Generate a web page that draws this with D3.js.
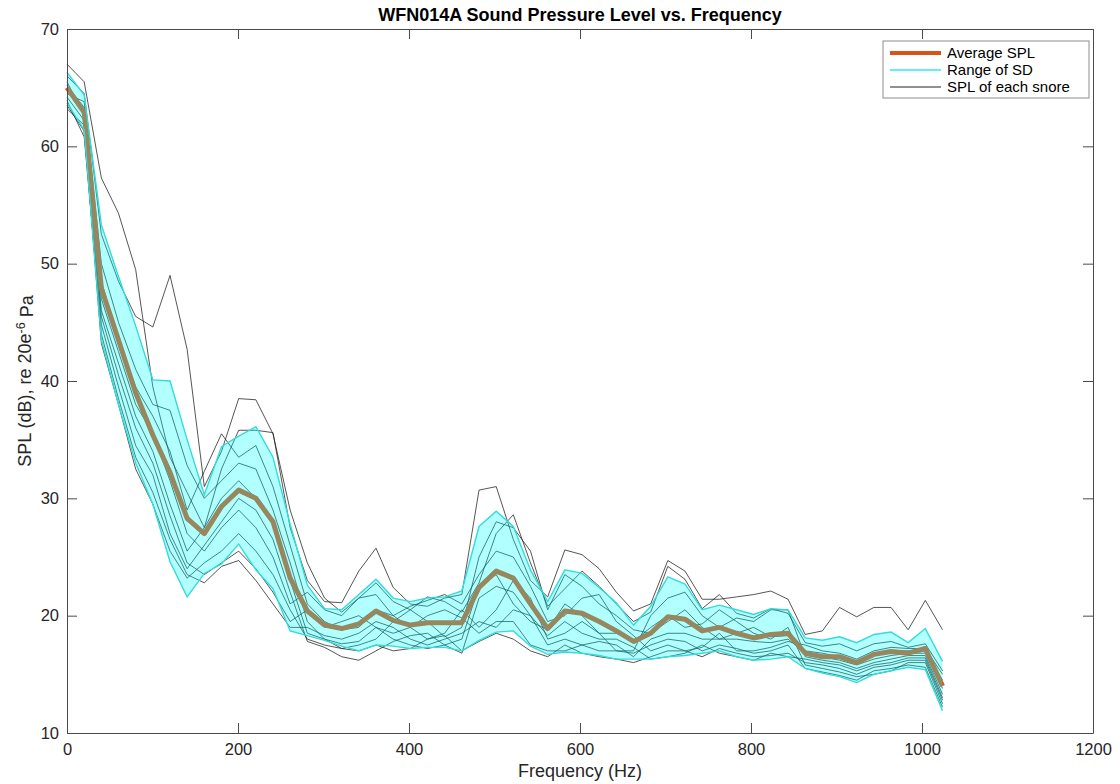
<!DOCTYPE html>
<html>
<head>
<meta charset="utf-8">
<script src="https://cdnjs.cloudflare.com/ajax/libs/d3/7.8.5/d3.min.js"></script>
<style>
  body { margin: 0; background: #fff; }
  svg { font-family: "Liberation Sans", Arial, Helvetica, sans-serif; }
  .axis text { font-size: 16.5px; fill: #262626; }
  .axis path, .axis line { stroke: #4a4a4a; }
</style>
</head>
<body>
<script>
// frequency bins (Hz), 52 points from 0 to 1024
var freqs = [0, 20.1, 40.2, 60.2, 80.3, 100.4, 120.5, 140.5, 160.6, 180.7,
  200.8, 220.9, 240.9, 261.0, 281.1, 301.2, 321.3, 341.3, 361.4, 381.5,
  401.6, 421.6, 441.7, 461.8, 481.9, 502.0, 522.0, 542.1, 562.2, 582.3,
  602.4, 622.4, 642.5, 662.6, 682.7, 702.7, 722.8, 742.9, 763.0, 783.1,
  803.1, 823.2, 843.3, 863.4, 883.5, 903.5, 923.6, 943.7, 963.8, 983.8,
  1003.9, 1024];

// average SPL (dB)
var avgSPL = [65.0, 62.9, 47.9, 43.5, 39.0, 35.4, 32.2, 28.3, 27.0, 29.3,
  30.7, 30.0, 28.0, 23.2, 20.4, 19.2, 18.9, 19.3, 20.4, 19.6,
  19.2, 19.4, 19.4, 19.4, 22.4, 23.8, 23.2, 21.0, 18.9, 20.4,
  20.2, 19.5, 18.7, 17.8, 18.5, 19.9, 19.7, 18.7, 19.0, 18.5,
  18.1, 18.4, 18.5, 16.8, 16.5, 16.5, 16.0, 16.7, 16.95, 16.8,
  17.2, 14.0];

// upper and lower edge of the SD band
var sdUpper = [66.3, 64.4, 53.3, 48.9, 44.7, 40.1, 40.0, 35.0, 30.3, 34.4,
  35.3, 36.1, 33.5, 27.8, 22.6, 20.6, 20.5, 21.8, 23.1, 21.5,
  21.2, 21.5, 21.6, 22.1, 27.6, 28.9, 27.6, 23.9, 21.2, 23.9,
  23.6, 22.4, 21.1, 19.2, 20.8, 23.3, 22.7, 20.5, 20.9, 20.5,
  20.1, 20.6, 20.5, 18.1, 17.9, 18.2, 17.7, 18.4, 18.6, 17.7,
  18.9, 16.1];
var sdLower = [63.7, 61.4, 43.5, 38.0, 33.0, 29.5, 24.6, 21.6, 23.6, 24.4,
  26.1, 23.9, 22.3, 18.7, 18.3, 17.9, 17.4, 17.0, 17.5, 17.4,
  17.2, 17.3, 17.3, 17.0, 17.9, 18.6, 18.7, 17.4, 16.7, 16.9,
  16.8, 16.6, 16.3, 16.3, 16.3, 16.5, 16.6, 16.8, 17.0, 16.5,
  16.2, 16.3, 16.5, 15.5, 15.1, 14.8, 14.3, 15.0, 15.3, 15.6,
  15.4, 11.9];

// SPL of each snore
var snore1 = [67.0, 65.5, 57.3, 54.3, 49.5, 39.5, 33.5, 30.5, 27.5, 32.5,
  35.8, 35.8, 35.6, 27.5, 23.0, 21.2, 21.1, 23.8, 25.75, 22.4,
  21.0, 20.8, 21.5, 21.8, 30.7, 31.0, 26.5, 23.0, 21.6, 25.6,
  25.2, 24.0, 22.0, 20.4, 21.0, 24.7, 23.8, 21.4, 21.4, 21.6,
  21.8, 22.1, 21.4, 18.4, 18.7, 20.7, 19.9, 20.7, 20.7, 18.8,
  21.3, 18.8];
var snore2 = [66.0, 64.5, 52.5, 48.5, 45.5, 44.6, 49.0, 42.7, 31.0, 34.0,
  38.5, 38.4, 35.5, 29.0, 24.5, 21.5, 20.3, 21.5, 22.8, 21.2,
  20.5, 21.6, 21.2, 20.3, 22.8, 27.0, 28.6, 24.5, 20.8, 22.3,
  23.8, 22.5, 21.0, 19.5, 20.3, 24.2, 23.1, 20.6, 21.8, 20.2,
  19.8, 20.6, 20.2, 17.7, 17.4, 17.6, 17.0, 17.6, 17.8, 17.3,
  17.6, 15.3];
var snore3 = [64.5, 63.8, 50.0, 45.0, 41.0, 38.0, 37.5, 32.8, 30.0, 31.5,
  33.0, 32.5, 29.0, 24.5, 19.5, 18.0, 17.2, 17.5, 18.0, 19.5,
  20.5, 19.5, 18.2, 19.0, 25.0, 28.0, 27.5, 25.5, 20.5, 23.5,
  22.5, 21.0, 20.0, 18.8, 18.5, 19.5, 20.5, 19.0, 18.0, 18.5,
  19.0, 18.2, 18.3, 17.0, 16.8, 16.5, 16.0, 16.6, 17.0, 17.0,
  17.0, 14.5];
var snore4 = [65.2, 63.3, 48.5, 43.5, 39.5, 37.0, 34.0, 29.0, 32.3, 35.5,
  33.5, 34.5, 31.0, 26.0, 21.0, 19.5, 18.8, 19.0, 20.5, 20.0,
  19.0, 18.0, 18.5, 20.5, 19.0, 20.5, 23.0, 21.5, 18.0, 18.5,
  19.5, 18.5, 17.0, 17.0, 20.0, 21.5, 22.0, 20.0, 19.0, 19.8,
  19.5, 20.5, 20.5, 16.5, 16.2, 16.0, 15.5, 16.0, 16.3, 16.6,
  16.6, 13.3];
var snore5 = [64.8, 63.0, 47.0, 42.5, 38.0, 35.5, 31.5, 27.0, 25.5, 27.5,
  29.0, 27.5, 25.0, 21.0, 22.0, 20.5, 20.0, 21.5, 21.8, 20.0,
  20.8, 21.3, 21.8, 21.0, 23.5, 25.5, 25.0, 22.5, 19.5, 20.0,
  21.5, 21.8, 19.5, 18.3, 17.0, 17.5, 17.0, 17.3, 18.5, 17.0,
  17.0, 17.3, 17.8, 17.5, 17.0, 16.8, 16.3, 17.0, 17.3, 17.2,
  17.2, 15.0];
var snore6 = [65.5, 62.6, 46.0, 41.5, 37.0, 34.0, 29.5, 25.5, 27.5, 30.0,
  31.5, 30.0, 28.0, 23.0, 18.5, 18.0, 17.6, 17.8, 19.0, 18.0,
  17.5, 17.2, 17.5, 18.0, 22.5, 23.5, 21.0, 19.5, 18.8, 21.0,
  20.0, 18.5, 18.5, 17.8, 19.0, 20.0, 19.0, 19.3, 20.5, 19.5,
  18.5, 18.0, 19.0, 15.8, 15.5, 15.2, 14.8, 15.0, 15.3, 16.0,
  16.0, 12.5];
var snore7 = [64.2, 62.2, 45.5, 40.5, 36.0, 33.0, 28.5, 24.5, 23.5, 24.5,
  25.5, 24.0, 22.0, 19.5, 20.5, 19.0, 19.5, 20.0, 19.0, 18.5,
  19.0, 20.0, 20.5, 19.8, 18.5, 19.5, 19.5, 17.5, 17.0, 17.0,
  17.5, 17.8, 17.5, 16.5, 18.0, 18.5, 18.5, 18.0, 18.0, 18.0,
  17.8, 17.7, 18.0, 16.8, 16.5, 16.2, 15.8, 16.3, 16.6, 16.8,
  16.8, 13.8];
var snore8 = [63.9, 60.8, 44.8, 39.5, 34.5, 32.0, 27.0, 24.0, 26.0, 28.0,
  30.0, 29.0, 26.5, 22.0, 17.8, 17.3, 16.5, 16.2, 17.0, 17.8,
  18.3, 18.5, 17.5, 16.8, 21.5, 22.5, 22.0, 20.0, 18.3, 19.5,
  18.5, 18.0, 18.0, 17.3, 16.3, 16.5, 16.8, 17.5, 16.8, 16.5,
  16.2, 16.8, 16.5, 16.3, 16.0, 15.8, 15.3, 15.8, 16.0, 16.4,
  16.4, 13.0];
var snore9 = [63.5, 61.3, 44.0, 38.5, 33.5, 30.5, 26.5, 23.5, 22.8, 24.2,
  24.7, 23.0, 21.0, 19.0, 19.0, 18.3, 18.0, 18.5, 19.5, 19.0,
  18.0, 17.5, 18.0, 18.5, 19.5, 19.0, 20.5, 20.0, 17.5, 18.0,
  17.5, 17.0, 17.0, 16.8, 17.5, 18.0, 17.8, 17.0, 17.5, 17.2,
  16.8, 17.0, 17.5, 15.5, 15.2, 14.9, 14.5, 15.3, 15.5, 15.8,
  15.6, 12.2];
var snore10 = [63.2, 61.8, 43.2, 38.0, 32.5, 29.5, 25.5, 23.2, 24.5, 25.5,
  27.0, 25.5, 23.5, 20.5, 18.0, 17.5, 17.2, 17.0, 17.5, 17.0,
  17.2, 18.0, 18.3, 17.0, 17.8, 18.5, 18.0, 17.0, 16.5, 17.5,
  16.8, 16.5, 16.3, 16.0, 16.5, 17.0, 17.0, 16.5, 17.2, 16.8,
  16.5, 16.6, 16.8, 16.0, 15.8, 15.5, 15.0, 15.6, 15.8, 16.2,
  16.2, 12.8];

var snores = [snore1, snore2, snore3, snore4, snore5, snore6, snore7, snore8, snore9, snore10];

var xTicks = [0, 200, 400, 600, 800, 1000, 1200];
var yTicks = [10, 20, 30, 40, 50, 60, 70];

var legendLabels = ["Average SPL", "Range of SD", "SPL of each snore"];

var margin = {top: 29, right: 27, bottom: 51, left: 67},
    width = 1120 - margin.left - margin.right,
    height = 784 - margin.top - margin.bottom;

var svg = d3.select("body").append("svg")
    .attr("width", 1120)
    .attr("height", 784),
    g = svg.append("g").attr("transform", "translate(" + margin.left + "," + margin.top + ")");

var x = d3.scaleLinear().domain([0, 1200]).range([0, width]),
    y = d3.scaleLinear().domain([10, 70]).range([height, 0]);

var line = d3.line()
    .x(function(d, i) { return x(freqs[i]); })
    .y(function(d) { return y(d); });

var band = d3.area()
    .x(function(d, i) { return x(freqs[i]); })
    .y0(function(d, i) { return y(sdLower[i]); })
    .y1(function(d, i) { return y(sdUpper[i]); });

// each snore first, so the cyan band sits on top of them
g.selectAll(".snore")
  .data(snores)
  .enter().append("path")
    .attr("class", "snore")
    .attr("d", line)
    .attr("fill", "none")
    .attr("stroke", "#1f1f1f")
    .attr("stroke-width", 0.9)
    .attr("stroke-opacity", 0.85);

// average line, gets tinted by the transparent band drawn over it
g.append("path")
    .datum(avgSPL)
    .attr("d", line)
    .attr("fill", "none")
    .attr("stroke", "#D95319")
    .attr("stroke-width", 5)
    .attr("stroke-linejoin", "round");

g.append("path")
    .datum(sdUpper)
    .attr("d", band)
    .attr("fill", "#00FFFF")
    .attr("fill-opacity", 0.3)
    .attr("stroke", "none");

[sdUpper, sdLower].forEach(function(edge) {
  g.append("path")
      .datum(edge)
      .attr("d", line)
      .attr("fill", "none")
      .attr("stroke", "#35dada")
      .attr("stroke-width", 1.4);
});

// axes, MATLAB style: ticks inside on all four sides
g.append("g")
    .attr("class", "axis axis--x")
    .attr("transform", "translate(0," + height + ")")
    .call(d3.axisBottom(x).tickValues(xTicks).tickFormat(d3.format("d"))
      .tickSizeInner(-10).tickSizeOuter(0).tickPadding(10));

g.append("g")
    .attr("class", "axis axis--y")
    .call(d3.axisLeft(y).tickValues(yTicks).tickSizeInner(-10).tickSizeOuter(0).tickPadding(8));

g.append("g")
    .attr("class", "axis")
    .call(d3.axisTop(x).tickValues(xTicks).tickSizeInner(-10).tickSizeOuter(0).tickFormat(""));

g.append("g")
    .attr("class", "axis")
    .attr("transform", "translate(" + width + ",0)")
    .call(d3.axisRight(y).tickValues(yTicks).tickSizeInner(-10).tickSizeOuter(0).tickFormat(""));

// title + axis labels
svg.append("text")
    .attr("x", margin.left + width / 2)
    .attr("y", 21)
    .attr("text-anchor", "middle")
    .style("font-size", "18px")
    .style("font-weight", "bold")
    .attr("fill", "#000")
    .text("WFN014A Sound Pressure Level vs. Frequency");

svg.append("text")
    .attr("x", margin.left + width / 2)
    .attr("y", 777)
    .attr("text-anchor", "middle")
    .style("font-size", "18px")
    .attr("fill", "#262626")
    .text("Frequency (Hz)");

var ylab = svg.append("text")
    .attr("transform", "translate(31," + (margin.top + height / 2) + ") rotate(-90)")
    .attr("text-anchor", "middle")
    .style("font-size", "18px")
    .attr("fill", "#262626");
ylab.append("tspan").text("SPL (dB), re 20e");
ylab.append("tspan").attr("dy", "-0.45em").style("font-size", "12.5px").text("-6");
ylab.append("tspan").attr("dy", "0.45em").text(" Pa");

// legend box top right
var legend = svg.append("g").attr("transform", "translate(883,41)");

legend.append("rect")
    .attr("width", 206)
    .attr("height", 57)
    .attr("fill", "#fff")
    .attr("stroke", "#8c8c8c")
    .attr("stroke-width", 1);

var legendStyles = [
  {color: "#D95319", w: 4},
  {color: "#5ff0f0", w: 2},
  {color: "#222", w: 1}
];

var item = legend.selectAll(".item")
  .data(legendLabels)
  .enter().append("g")
    .attr("class", "item")
    .attr("transform", function(d, i) { return "translate(0," + (12 + i * 17) + ")"; });

item.append("line")
    .attr("x1", 7).attr("x2", 58)
    .attr("stroke", function(d, i) { return legendStyles[i].color; })
    .attr("stroke-width", function(d, i) { return legendStyles[i].w; });

item.append("text")
    .attr("x", 64)
    .attr("dy", "0.35em")
    .style("font-size", "15px")
    .attr("fill", "#000")
    .text(function(d) { return d; });
</script>
</body>
</html>
